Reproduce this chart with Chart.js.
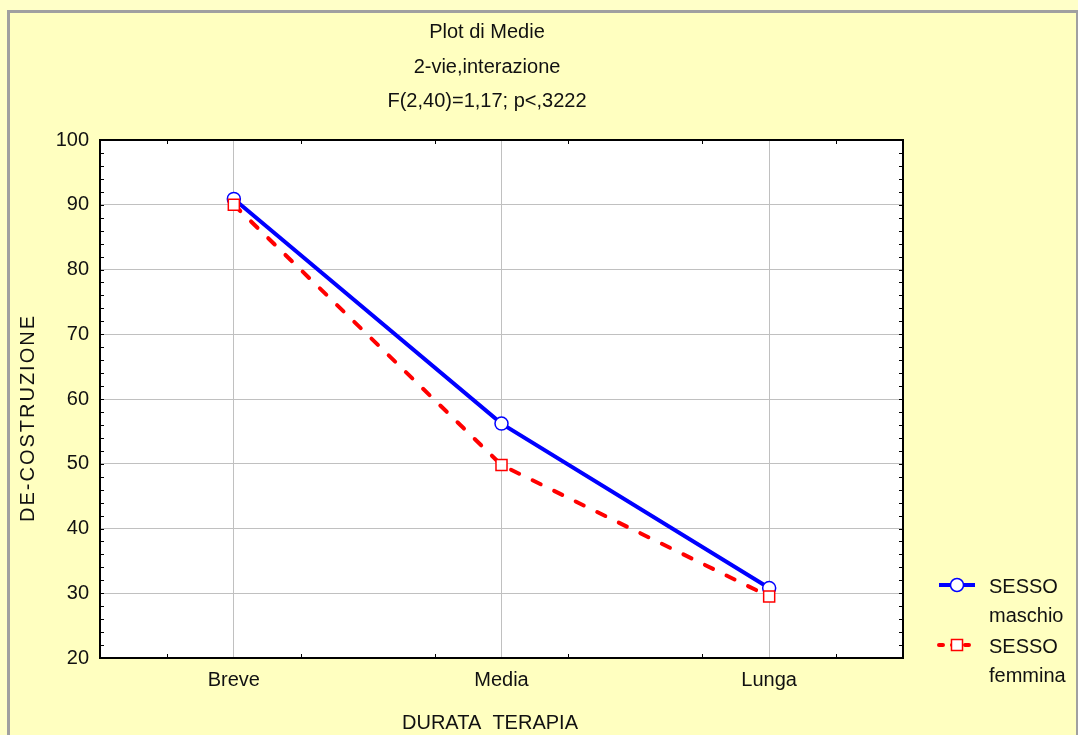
<!DOCTYPE html>
<html>
<head>
<meta charset="utf-8">
<script src="https://cdn.jsdelivr.net/npm/chart.js@4"></script>
<style>
  html, body { margin: 0; padding: 0; background: #ffffc8; }
  #wrap { position: relative; width: 1078px; height: 735px; overflow: hidden; }
  #frame { position: absolute; left: 7px; top: 10px; width: 1066px; height: 740px;
           border: 3px solid #a0a0a0; border-bottom: none; background: #ffffc0; }
  #box { position: absolute; left: 0; top: 0; width: 1078px; height: 735px; }
</style>
</head>
<body>
<div id="wrap">
  <div id="frame"></div>
  <div id="box"><canvas id="meansChart"></canvas></div>
</div>
<script>
// data
const categories = ['Breve', 'Media', 'Lunga'];
const maschio = [90.9, 56.2, 30.8];
const femmina = [90.0, 49.8, 29.5];
const seriesLabels = [['SESSO', 'maschio'], ['SESSO', 'femmina']];
const titleLines = ['Plot di Medie', '2-vie,interazione', 'F(2,40)=1,17; p<,3222'];
const yTitle = 'DE-COSTRUZIONE';
const xTitle = 'DURATA  TERAPIA';
const yMin = 20, yMax = 100, yStep = 10, yMinorStep = 2;
const xMinorOffsets = [-0.25, 0.25];

const FONT = "'Liberation Sans', Arial, sans-serif";

// extra drawing: white plot area, frame, minor ticks, titles, custom legend
const decor = {
    id: 'decor',
    beforeDraw(chart) {
        const a = chart.chartArea, ctx = chart.ctx;
        ctx.save();
        ctx.fillStyle = '#ffffff';
        ctx.fillRect(a.left, a.top, a.right - a.left, a.bottom - a.top);
        ctx.restore();
    },
    afterDatasetsDraw(chart) {
        const a = chart.chartArea, ctx = chart.ctx;
        const x = chart.scales.x, y = chart.scales.y;
        ctx.save();
        // minor ticks, pointing inwards
        ctx.strokeStyle = '#000';
        ctx.lineWidth = 1;
        ctx.beginPath();
        for (let v = yMin + yMinorStep; v < yMax; v += yMinorStep) {
            const py = Math.round(y.getPixelForValue(v)) + 0.5;
            ctx.moveTo(a.left, py); ctx.lineTo(a.left + 4, py);
            ctx.moveTo(a.right, py); ctx.lineTo(a.right - 4, py);
        }
        categories.forEach((c, i) => {
            xMinorOffsets.forEach(off => {
                const px = Math.round(x.getPixelForValue(i + off)) + 0.5;
                ctx.moveTo(px, a.bottom); ctx.lineTo(px, a.bottom - 4);
                ctx.moveTo(px, a.top); ctx.lineTo(px, a.top + 4);
            });
        });
        ctx.stroke();
        // plot frame
        ctx.lineWidth = 2;
        ctx.strokeRect(a.left, a.top, a.right - a.left, a.bottom - a.top);
        ctx.restore();
    },
    afterDraw(chart) {
        const ctx = chart.ctx;
        ctx.save();
        ctx.fillStyle = '#111';
        ctx.font = '20px ' + FONT;
        ctx.textAlign = 'center';
        ctx.textBaseline = 'alphabetic';
        titleLines.forEach((t, i) => ctx.fillText(t, 487, 38 + i * 34.5));

        // axis titles
        ctx.fillText(xTitle, 490, 729);
        ctx.save();
        ctx.translate(34, 418);
        ctx.rotate(-Math.PI / 2);
        ctx.letterSpacing = '2px';
        ctx.fillText(yTitle, 0, 0);
        ctx.restore();

        // legend
        chart.data.datasets.forEach((ds, i) => {
            const ry = 585 + i * 60;
            ctx.save();
            ctx.strokeStyle = ds.borderColor;
            ctx.lineWidth = ds.borderWidth;
            ctx.lineCap = ds.borderCapStyle || 'butt';
            ctx.setLineDash(ds.borderDash ? [4, 9] : []);
            ctx.beginPath();
            ctx.moveTo(939, ry);
            ctx.lineTo(975, ry);
            ctx.stroke();
            ctx.setLineDash([]);
            ctx.fillStyle = ds.pointBackgroundColor;
            ctx.strokeStyle = ds.pointBorderColor;
            ctx.lineWidth = ds.pointBorderWidth;
            Chart.helpers.drawPoint(ctx, {
                pointStyle: ds.pointStyle, radius: ds.pointRadius, rotation: 0, borderWidth: ds.pointBorderWidth
            }, 957, ry);
            ctx.restore();
            ctx.textAlign = 'left';
            ctx.fillText(seriesLabels[i][0], 989, ry + 8);
            ctx.fillText(seriesLabels[i][1], 989, ry + 37);
        });
        ctx.restore();
    }
};

window.onload = function () {
    const ctx = document.getElementById('meansChart').getContext('2d');
    new Chart(ctx, {
        type: 'line',
        data: {
            labels: categories,
            datasets: [{
                label: seriesLabels[0].join(' '),
                data: maschio,
                borderColor: '#0000ff',
                borderWidth: 4,
                pointStyle: 'circle',
                pointRadius: 6.5,
                pointBackgroundColor: '#ffffff',
                pointBorderColor: '#0000ff',
                pointBorderWidth: 1.5,
                tension: 0,
                order: 1
            }, {
                label: seriesLabels[1].join(' '),
                data: femmina,
                borderColor: '#ff0000',
                borderWidth: 4,
                borderDash: [9, 15],
                borderCapStyle: 'round',
                pointStyle: 'rect',
                pointRadius: 7.8,
                pointBackgroundColor: '#ffffff',
                pointBorderColor: '#ff0000',
                pointBorderWidth: 1.5,
                tension: 0,
                order: 0
            }]
        },
        options: {
            responsive: true,
            maintainAspectRatio: false,
            animation: false,
            layout: { padding: { left: 0, right: 175, top: 140, bottom: 0 } },
            scales: {
                x: {
                    offset: true,
                    grid: { offset: false, color: '#c0c0c0', lineWidth: 1, drawTicks: false },
                    border: { display: false },
                    ticks: { color: '#111', font: { family: FONT, size: 20 }, padding: 10, maxRotation: 0 },
                    afterFit(scale) { scale.height = 77; }
                },
                y: {
                    min: yMin,
                    max: yMax,
                    grid: { color: '#c0c0c0', lineWidth: 1, drawTicks: false },
                    border: { display: false },
                    ticks: { stepSize: yStep, color: '#111', font: { family: FONT, size: 20 }, padding: 11 },
                    afterFit(scale) { scale.width = 100; }
                }
            },
            plugins: {
                legend: { display: false },
                title: { display: false },
                tooltip: { enabled: false }
            }
        },
        plugins: [decor]
    });
};
</script>
</body>
</html>
